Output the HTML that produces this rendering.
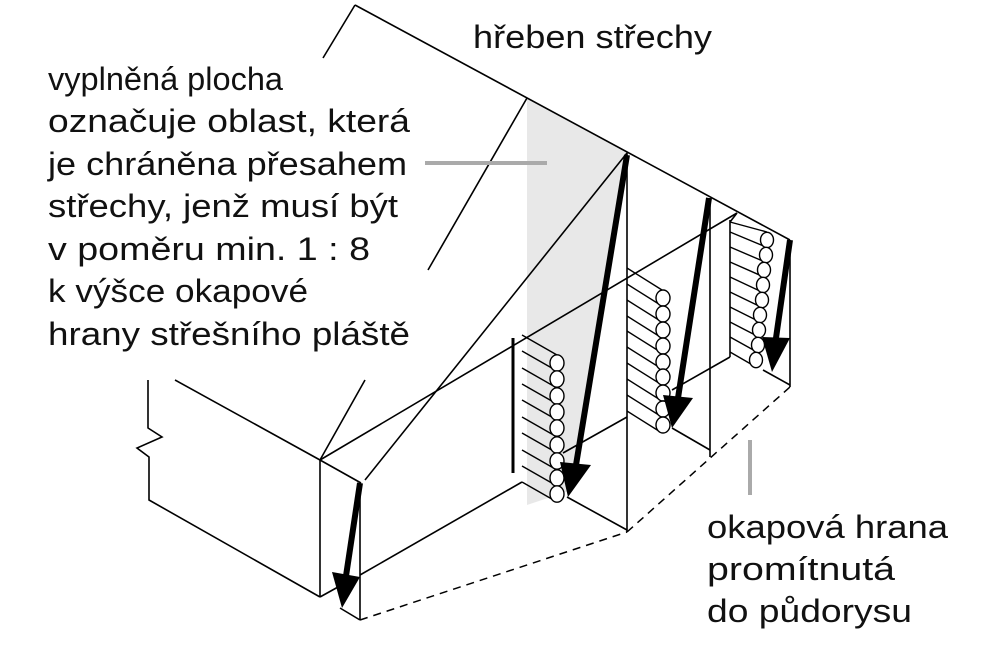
<!DOCTYPE html>
<html><head><meta charset="utf-8"><style>
html,body{margin:0;padding:0;background:#fff;width:1000px;height:653px;overflow:hidden}
text{font-family:"Liberation Sans",sans-serif;fill:#111}
</style></head><body>
<svg width="1000" height="653" viewBox="0 0 1000 653" xmlns="http://www.w3.org/2000/svg">
<polygon points="527,98 627,153 572,490 527,505" fill="#e8e8e8"/>
<g stroke="#000" stroke-width="1.6" fill="none">
<line x1="355" y1="5" x2="790" y2="240"/>
<line x1="355" y1="5" x2="323" y2="58"/>
<line x1="527" y1="98" x2="428" y2="270"/>
<line x1="365" y1="380" x2="320" y2="460"/>
<polyline points="148,380 148,428 162,437 137,448 149,457 149,500 320,597"/>
<line x1="175" y1="380" x2="320" y2="460"/>
<line x1="320" y1="460" x2="320" y2="597"/>
<line x1="320" y1="460" x2="361" y2="483"/>
<line x1="360" y1="483" x2="360" y2="620"/>
<line x1="340" y1="608" x2="360" y2="620"/>
<line x1="320" y1="597" x2="338" y2="587"/>
<line x1="365" y1="480" x2="627" y2="153"/>
<line x1="320" y1="460" x2="737" y2="213"/>
<line x1="627" y1="153" x2="627" y2="532"/>
<line x1="710" y1="198" x2="710" y2="457"/>
<line x1="790" y1="240" x2="790" y2="387"/>
<line x1="360" y1="575" x2="522" y2="482"/>
<line x1="567" y1="497" x2="627" y2="530"/>
<line x1="563" y1="453" x2="627" y2="417"/>
<line x1="672" y1="390" x2="730" y2="357"/>
<line x1="672" y1="428" x2="710" y2="450"/>
<line x1="763" y1="370" x2="790" y2="385"/>
<line x1="730" y1="220" x2="730" y2="357"/>
<line x1="730" y1="222" x2="737" y2="213"/>
</g>
<line x1="513" y1="338" x2="513" y2="473" stroke="#000" stroke-width="3"/>
<g stroke="#000" stroke-width="1.5" fill="none" stroke-dasharray="8,6">
<line x1="360" y1="620" x2="627" y2="532"/>
<line x1="627" y1="532" x2="790" y2="387"/>
</g>
<g stroke="#000" stroke-width="1.4" fill="#fff">
<line x1="522" y1="335" x2="557" y2="355"/><line x1="522" y1="351" x2="557" y2="371"/><line x1="522" y1="368" x2="557" y2="388"/><line x1="522" y1="384" x2="557" y2="404"/><line x1="522" y1="400" x2="557" y2="420"/><line x1="522" y1="417" x2="557" y2="437"/><line x1="522" y1="433" x2="557" y2="453"/><line x1="522" y1="450" x2="557" y2="470"/><line x1="522" y1="466" x2="557" y2="486"/><line x1="522" y1="482" x2="557" y2="502"/>
<ellipse cx="557" cy="363" rx="7" ry="8.2"/><ellipse cx="557" cy="379" rx="7" ry="8.2"/><ellipse cx="557" cy="396" rx="7" ry="8.2"/><ellipse cx="557" cy="412" rx="7" ry="8.2"/><ellipse cx="557" cy="428" rx="7" ry="8.2"/><ellipse cx="557" cy="445" rx="7" ry="8.2"/><ellipse cx="557" cy="461" rx="7" ry="8.2"/><ellipse cx="557" cy="478" rx="7" ry="8.2"/><ellipse cx="557" cy="494" rx="7" ry="8.2"/>
<line x1="627" y1="268" x2="662" y2="290"/><line x1="627" y1="284" x2="662" y2="306"/><line x1="627" y1="300" x2="662" y2="322"/><line x1="627" y1="316" x2="662" y2="338"/><line x1="627" y1="331" x2="662" y2="353"/><line x1="627" y1="347" x2="662" y2="369"/><line x1="627" y1="363" x2="662" y2="385"/><line x1="627" y1="379" x2="662" y2="401"/><line x1="627" y1="395" x2="662" y2="417"/><line x1="627" y1="411" x2="662" y2="433"/>
<ellipse cx="663" cy="298" rx="7" ry="8"/><ellipse cx="663" cy="314" rx="7" ry="8"/><ellipse cx="663" cy="330" rx="7" ry="8"/><ellipse cx="663" cy="346" rx="7" ry="8"/><ellipse cx="663" cy="362" rx="7" ry="8"/><ellipse cx="663" cy="377" rx="7" ry="8"/><ellipse cx="663" cy="393" rx="7" ry="8"/><ellipse cx="663" cy="409" rx="7" ry="8"/><ellipse cx="663" cy="425" rx="7" ry="8"/>
<line x1="730" y1="222" x2="767" y2="232"/><line x1="730" y1="232" x2="766" y2="247"/><line x1="730" y1="247" x2="765" y2="262"/><line x1="730" y1="262" x2="764" y2="277"/><line x1="730" y1="277" x2="762" y2="292"/><line x1="730" y1="292" x2="761" y2="307"/><line x1="730" y1="307" x2="760" y2="322"/><line x1="730" y1="322" x2="759" y2="337"/><line x1="730" y1="337" x2="757" y2="352"/><line x1="730" y1="352" x2="756" y2="367"/>
<ellipse cx="767" cy="240" rx="6.5" ry="7.7"/><ellipse cx="766" cy="255" rx="6.5" ry="7.7"/><ellipse cx="764" cy="270" rx="6.5" ry="7.7"/><ellipse cx="763" cy="285" rx="6.5" ry="7.7"/><ellipse cx="762" cy="300" rx="6.5" ry="7.7"/><ellipse cx="760" cy="315" rx="6.5" ry="7.7"/><ellipse cx="759" cy="330" rx="6.5" ry="7.7"/><ellipse cx="758" cy="345" rx="6.5" ry="7.7"/><ellipse cx="756" cy="360" rx="6.5" ry="7.7"/>
</g>
<g stroke="#000" stroke-width="6" stroke-linecap="butt">
<line x1="360" y1="483" x2="346" y2="576"/>
<line x1="627" y1="155" x2="576" y2="465"/>
<line x1="709" y1="198" x2="678" y2="398"/>
<line x1="790" y1="240" x2="776" y2="338"/>
</g>
<g fill="#000">
<polygon points="332,572 360,577 342,608"/>
<polygon points="560,462 591,465 568,497"/>
<polygon points="663,395 693,398 672,428"/>
<polygon points="762,337 790,338 772,372"/>
</g>
<line x1="425" y1="163" x2="547" y2="163" stroke="#aaa" stroke-width="4"/>
<line x1="750" y1="440" x2="750" y2="495" stroke="#aaa" stroke-width="4"/>
<g font-size="32">
<text x="473" y="48" textLength="239" lengthAdjust="spacingAndGlyphs">hřeben střechy</text>
<text x="48" y="90" textLength="235" lengthAdjust="spacingAndGlyphs">vyplněná plocha</text>
<text x="48" y="132" textLength="362" lengthAdjust="spacingAndGlyphs">označuje oblast, která</text>
<text x="48" y="175" textLength="359" lengthAdjust="spacingAndGlyphs">je chráněna přesahem</text>
<text x="48" y="217" textLength="350" lengthAdjust="spacingAndGlyphs">střechy, jenž musí být</text>
<text x="48" y="260" textLength="322" lengthAdjust="spacingAndGlyphs">v poměru min. 1 : 8</text>
<text x="48" y="302" textLength="260" lengthAdjust="spacingAndGlyphs">k výšce okapové</text>
<text x="48" y="345" textLength="362" lengthAdjust="spacingAndGlyphs">hrany střešního pláště</text>
<text x="707" y="538" textLength="241" lengthAdjust="spacingAndGlyphs">okapová hrana</text>
<text x="707" y="580" textLength="188" lengthAdjust="spacingAndGlyphs">promítnutá</text>
<text x="707" y="622" textLength="205" lengthAdjust="spacingAndGlyphs">do půdorysu</text>
</g>
</svg>
</body></html>
